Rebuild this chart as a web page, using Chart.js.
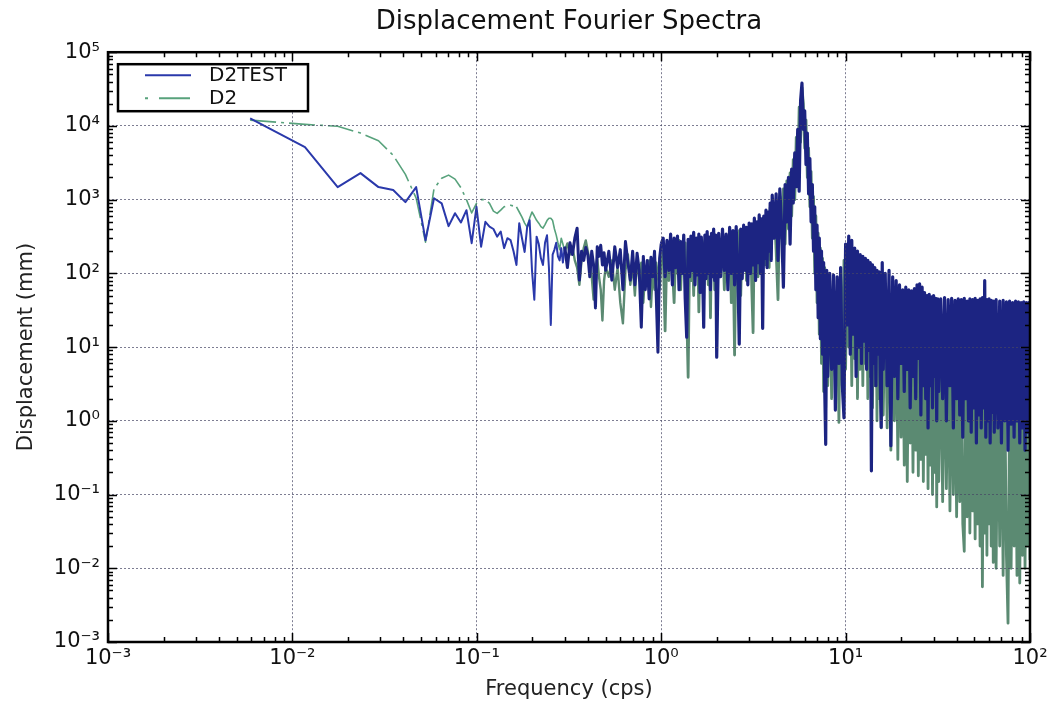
<!DOCTYPE html>
<html>
<head>
<meta charset="utf-8">
<title>Displacement Fourier Spectra</title>
<script src="https://cdn.jsdelivr.net/npm/chart.js@4.4.1/dist/chart.umd.min.js"></script>
<style>
  body { margin: 0; background: #fff; overflow: hidden; }
  canvas { display: block; }
</style>
</head>
<body>
<canvas id="spectra" width="1054" height="710"></canvas>
<script>
// frequencies in cps, shared by both spectra
const freq = [
  // fft bins under 0.3 cps
  0.0059, 0.0117, 0.0176, 0.0234, 0.0293, 0.0352, 0.0410, 0.0469, 0.0527, 0.0586,
  0.0645, 0.0703, 0.0762, 0.0820, 0.0879, 0.0938, 0.0996, 0.1055, 0.1113, 0.1172,
  0.1231, 0.1289, 0.1348, 0.1406, 0.1465, 0.1524, 0.1582, 0.1641, 0.1699, 0.1758,
  0.1817, 0.1875, 0.1934, 0.1992, 0.2051, 0.2110, 0.2168, 0.2227, 0.2285, 0.2344,
  0.2403, 0.2461, 0.2520, 0.2578, 0.2637, 0.2696, 0.2754, 0.2813, 0.2871, 0.2930,
  // 0.3 - 0.5
  0.30, 0.31, 0.32, 0.33, 0.34, 0.35, 0.36, 0.37, 0.38, 0.39, 0.40,
  0.41, 0.42, 0.43, 0.44, 0.45, 0.46, 0.47, 0.48, 0.49, 0.50,
  // 0.5 - 1
  0.52, 0.54, 0.56, 0.58, 0.60, 0.62, 0.64, 0.66, 0.68, 0.70, 0.72, 0.74, 0.76,
  0.78, 0.80, 0.82, 0.84, 0.86, 0.88, 0.90, 0.92, 0.94, 0.96, 0.98, 1.00,
  // 1 - 2
  1.025, 1.05, 1.075, 1.1, 1.125, 1.15, 1.175, 1.2, 1.225, 1.25,
  1.275, 1.3, 1.325, 1.35, 1.375, 1.4, 1.425, 1.45, 1.475, 1.5,
  1.525, 1.55, 1.575, 1.6, 1.625, 1.65, 1.675, 1.7, 1.725, 1.75,
  1.775, 1.8, 1.825, 1.85, 1.875, 1.9, 1.925, 1.95, 1.975, 2.0,
  // 2 - 4
  2.05, 2.1, 2.15, 2.2, 2.25, 2.3, 2.35, 2.4, 2.45, 2.5,
  2.55, 2.6, 2.65, 2.7, 2.75, 2.8, 2.85, 2.9, 2.95, 3.0,
  3.05, 3.1, 3.15, 3.2, 3.25, 3.3, 3.35, 3.4, 3.45, 3.5,
  3.55, 3.6, 3.65, 3.7, 3.75, 3.8, 3.85, 3.9, 3.95, 4.0,
  // 4 - 8
  4.1, 4.2, 4.3, 4.4, 4.5, 4.6, 4.7, 4.8, 4.9, 5.0,
  5.1, 5.2, 5.3, 5.4, 5.5, 5.6, 5.7, 5.8, 5.9, 6.0,
  6.1, 6.2, 6.3, 6.4, 6.5, 6.6, 6.7, 6.8, 6.9, 7.0,
  7.1, 7.2, 7.3, 7.4, 7.5, 7.6, 7.7, 7.8, 7.9, 8.0,
  // 8 - 16
  8.2, 8.4, 8.6, 8.8, 9.0, 9.2, 9.4, 9.6, 9.8, 10.0,
  10.2, 10.4, 10.6, 10.8, 11.0, 11.2, 11.4, 11.6, 11.8, 12.0,
  12.2, 12.4, 12.6, 12.8, 13.0, 13.2, 13.4, 13.6, 13.8, 14.0,
  14.2, 14.4, 14.6, 14.8, 15.0, 15.2, 15.4, 15.6, 15.8, 16.0,
  // 16 - 32
  16.4, 16.8, 17.2, 17.6, 18.0, 18.4, 18.8, 19.2, 19.6, 20.0,
  20.4, 20.8, 21.2, 21.6, 22.0, 22.4, 22.8, 23.2, 23.6, 24.0,
  24.4, 24.8, 25.2, 25.6, 26.0, 26.4, 26.8, 27.2, 27.6, 28.0,
  28.4, 28.8, 29.2, 29.6, 30.0, 30.4, 30.8, 31.2, 31.6, 32.0,
  // 32 - 64
  32.8, 33.6, 34.4, 35.2, 36.0, 36.8, 37.6, 38.4, 39.2, 40.0,
  40.8, 41.6, 42.4, 43.2, 44.0, 44.8, 45.6, 46.4, 47.2, 48.0,
  48.8, 49.6, 50.4, 51.2, 52.0, 52.8, 53.6, 54.4, 55.2, 56.0,
  56.8, 57.6, 58.4, 59.2, 60.0, 60.8, 61.6, 62.4, 63.2, 64.0,
  // 64 - 100
  65.5, 67, 68.5, 70, 71.5, 73, 74.5, 76, 77.5, 79,
  80.5, 82, 83.5, 85, 86.5, 88, 89.5, 91, 92.5, 94,
  95.5, 97, 98.5, 100
];

// D2TEST displacement (mm)
const d2test = [
  12700, 5150, 1480, 2290, 1480, 1350, 925, 1480, 282, 1045,
  890, 437, 655, 490, 720, 257, 800, 230, 500, 430,
  400, 315, 370, 220, 300, 283, 200, 130, 480, 300,
  195, 420, 525, 110, 44, 315, 250, 160, 130, 260,
  330, 120, 20, 180, 210, 260, 170, 150, 220, 140,
  230, 120, 260, 180, 300, 410, 81, 200, 150, 225, 180,
  90, 200, 130, 34, 230, 170, 240, 130, 190, 110,
  200, 81, 230, 120, 210, 60, 270, 140, 81, 200, 70, 188, 110,
  18.6, 170, 60, 150, 45, 165, 90, 200, 50, 8.5, 160, 250,
  300, 90, 280, 110, 340, 70, 300, 120, 320, 60,
  270, 100, 330, 45, 13.6, 290, 90, 320, 110, 360,
  70, 300, 95, 340, 55, 310, 120, 18.6, 330, 85,
  370, 100, 310, 60, 350, 90, 400, 80, 330, 7.3,
  350, 90, 400, 110, 340, 60, 420, 100, 380, 70,
  430, 120, 11, 400, 85, 450, 110, 420, 70, 480,
  100, 470, 130, 560, 80, 500, 140, 620, 100, 550,
  18, 600, 160, 720, 120, 680, 200, 900, 150, 1150,
  300, 1200, 150, 1400, 400, 65, 1600, 500, 2000, 250,
  2600, 900, 4300, 1500, 9000, 1300, 22000, 38000, 9000, 16000,
  3000, 8000, 1200, 3600, 500, 1600, 200, 800, 60, 450,
  25, 300, 13, 200, 8, 140, 3, 0.48, 110, 4,
  100, 5, 95, 1.4, 90, 6, 120, 3, 1.1, 250,
  20, 320, 8, 280, 15, 220, 4, 200, 10, 180,
  6, 170, 12, 160, 5, 150, 9, 140, 0.21, 130,
  6, 120, 3, 110, 8, 105, 4, 0.82, 140, 5,
  100, 3, 110, 0.46, 90, 4, 80, 2, 70, 6,
  60, 2.5, 65, 5, 60, 1.5, 58, 4, 62, 2,
  70, 7, 72, 1.2, 65, 3, 55, 2, 50, 0.8,
  52, 3, 48, 1.5, 50, 4, 46, 1, 45, 2.5,
  45, 2, 47, 1, 44, 3, 46, 0.8, 43, 2,
  45, 1.2, 44, 0.6, 46, 2, 42, 1, 45, 0.7,
  44, 1.5, 46, 0.5, 43, 1.2, 45, 0.8, 47, 1.5,
  80, 0.6, 44, 1, 45, 0.5, 43, 1.3, 42, 0.7,
  44, 0.8, 42, 0.5, 43, 1, 41, 0.4, 42, 0.9,
  40, 0.6, 42, 1, 41, 0.5, 40, 0.8, 41, 0.4,
  40, 0.7, 40, 0.6
];

// D2 displacement (mm)
const d2 = [
  12000, 10500, 9900, 8000, 6300, 4000, 2200, 1050, 265, 1400,
  1950, 2150, 1900, 1450, 1000, 660, 890, 1000, 1000, 890,
  700, 650, 720, 800, 830, 840, 820, 800, 680, 580,
  480, 425, 560, 680, 600, 525, 480, 430, 410, 460,
  520, 560, 560, 520, 400, 330, 260, 210, 300, 250,
  200, 255, 180, 230, 150, 120, 70, 150, 220, 280, 200,
  140, 90, 44, 120, 160, 90, 60, 23, 80, 120,
  90, 150, 60, 120, 40, 21, 110, 180, 70, 130, 50, 165, 80,
  140, 40, 120, 70, 150, 35, 110, 60, 140, 90, 60, 130,
  200, 16.6, 250, 80, 260, 120, 40, 240, 100, 280,
  60, 220, 140, 260, 30, 3.9, 180, 80, 260, 50,
  240, 110, 300, 30, 200, 90, 260, 45, 280, 130,
  320, 70, 260, 25, 300, 140, 340, 60, 300, 120,
  250, 140, 320, 60, 300, 120, 360, 40, 280, 7.8,
  330, 100, 380, 50, 330, 130, 420, 80, 380, 150,
  450, 60, 15.7, 400, 180, 480, 90, 450, 200, 540,
  100, 480, 130, 600, 200, 650, 120, 780, 250, 900,
  800, 200, 44, 1100, 300, 1400, 250, 1800, 400, 2300,
  600, 3500, 1000, 7000, 2000, 18000, 6000, 33000, 20000, 5000,
  12000, 2000, 5000, 800, 2400, 300, 1100, 100, 600, 40,
  350, 15, 220, 6, 160, 2.5, 120, 1.5, 90, 3,
  80, 2, 70, 4, 60, 0.95, 90, 3, 150, 5,
  200, 10, 250, 3, 180, 7, 160, 2, 150, 5,
  140, 3, 120, 6, 110, 2, 100, 4, 90, 1.5,
  85, 3, 80, 1, 75, 2, 70, 0.8, 65, 1.2,
  60, 0.8, 50, 0.4, 45, 1, 40, 0.3, 38, 0.6,
  35, 0.25, 32, 0.15, 30, 0.5, 28, 0.2, 26, 0.4,
  25, 0.18, 24, 0.3, 22, 0.15, 20, 0.35, 18, 0.12,
  17, 0.25, 16, 0.1, 15, 0.2, 14, 0.068, 13, 0.15,
  12, 0.08, 11, 0.12, 10, 0.06, 9, 0.1, 8, 0.05,
  8, 0.08, 7, 0.04, 0.017, 6, 0.05, 6, 0.03, 5.5,
  0.06, 5, 0.025, 5, 0.04, 4.5, 0.02, 4.5, 0.0056, 4,
  0.03, 4, 0.015, 3.5, 0.04, 3.5, 0.02, 3, 0.012, 3,
  0.01, 3, 0.02, 2.5, 0.008, 2.5, 0.015, 0.0018, 2, 0.01,
  2, 0.02, 1.8, 0.008, 1.8, 0.0063, 1.5, 0.015, 1.5, 0.01,
  1.2, 0.02, 1.2, 0.013
];

const xTicks = [0.001, 0.01, 0.1, 1, 10, 100];
const yTicks = [0.001, 0.01, 0.1, 1, 10, 100, 1000, 10000, 100000];

const FONT = 'DejaVu Sans';
const blue = '#2a39ab';
const blueDense = '#1c2482';
const green = '#58a27c';
const greenDense = '#5b8a72';

const sup = {'-': '\u207B', '0': '\u2070', '1': '\u00B9', '2': '\u00B2', '3': '\u00B3',
             '4': '\u2074', '5': '\u2075', '6': '\u2076', '7': '\u2077', '8': '\u2078', '9': '\u2079'};

function decadeLabel(v) {
    const e = Math.round(Math.log10(v));
    return '10' + String(e).split('').map(c => sup[c]).join('');
}

// spectra thicken where the fft bins pile up, so the band reads as solid
function bandWidth(c, thin, mid, thick) {
    const f = c.p0.parsed.x;
    if (f < 0.3) return thin;
    if (f < 1) return mid;
    return thick;
}

// white page behind everything
const background = {
    id: 'background',
    beforeDraw(chart) {
        const ctx = chart.ctx;
        ctx.save();
        ctx.fillStyle = '#ffffff';
        ctx.fillRect(0, 0, chart.width, chart.height);
        ctx.restore();
    }
};

// black box round the plot with inward major/minor ticks on all four sides
const frame = {
    id: 'frame',
    afterDraw(chart) {
        const {ctx, chartArea: a, scales} = chart;
        ctx.save();
        ctx.strokeStyle = '#000';
        ctx.lineWidth = 1.5;

        const tickX = (v, len) => {
            const px = Math.round(scales.x.getPixelForValue(v)) + 0.5;
            ctx.beginPath();
            ctx.moveTo(px, a.bottom); ctx.lineTo(px, a.bottom - len);
            ctx.moveTo(px, a.top); ctx.lineTo(px, a.top + len);
            ctx.stroke();
        };
        const tickY = (v, len) => {
            const py = Math.round(scales.y.getPixelForValue(v)) + 0.5;
            ctx.beginPath();
            ctx.moveTo(a.left, py); ctx.lineTo(a.left + len, py);
            ctx.moveTo(a.right, py); ctx.lineTo(a.right - len, py);
            ctx.stroke();
        };

        xTicks.forEach((d, i) => {
            tickX(d, 9);
            if (i < xTicks.length - 1) for (let m = 2; m < 10; m++) tickX(d * m, 5);
        });
        yTicks.forEach((d, i) => {
            tickY(d, 9);
            if (i < yTicks.length - 1) for (let m = 2; m < 10; m++) tickY(d * m, 5);
        });

        ctx.lineWidth = 2.5;
        ctx.strokeRect(a.left, a.top, a.right - a.left, a.bottom - a.top);
        ctx.restore();
    }
};

// boxed legend in the upper left corner of the plot
const boxLegend = {
    id: 'boxLegend',
    afterDraw(chart) {
        const {ctx, chartArea: a} = chart;
        const left = a.left + 10, top = a.top + 12;
        ctx.save();
        ctx.fillStyle = '#fff';
        ctx.fillRect(left, top, 190, 47);
        ctx.strokeStyle = '#000';
        ctx.lineWidth = 2.5;
        ctx.strokeRect(left, top, 190, 47);

        chart.data.datasets.forEach((ds, i) => {
            const y = top + 11 + i * 23;
            ctx.strokeStyle = ds.borderColor;
            ctx.lineWidth = 2;
            ctx.setLineDash(i === 1 ? [3, 11, 31, 100] : []);
            ctx.beginPath();
            ctx.moveTo(left + 27, y);
            ctx.lineTo(left + 73, y);
            ctx.stroke();
            ctx.setLineDash([]);
            ctx.fillStyle = '#111';
            ctx.font = '20px "' + FONT + '"';
            ctx.textBaseline = 'middle';
            ctx.fillText(ds.label, left + 91, y + 1);
        });
        ctx.restore();
    }
};

Chart.defaults.font.family = FONT;

const ctx = document.getElementById('spectra').getContext('2d');

const spectraChart = new Chart(ctx, {
    type: 'line',
    data: {
        datasets: [
            {
                label: 'D2TEST',
                data: freq.map((f, i) => ({x: f, y: d2test[i]})),
                borderColor: blue,
                borderWidth: 2,
                borderJoinStyle: 'round',
                pointRadius: 0,
                tension: 0,
                fill: false,
                segment: {
                    borderWidth: c => bandWidth(c, 2, 3, 3.2),
                    borderColor: c => c.p0.parsed.x >= 0.3 ? blueDense : undefined
                }
            },
            {
                label: 'D2',
                data: freq.map((f, i) => ({x: f, y: d2[i]})),
                borderColor: green,
                borderWidth: 1.6,
                borderJoinStyle: 'round',
                pointRadius: 0,
                tension: 0,
                fill: false,
                // dash-dot only shows where the points are sparse
                segment: {
                    borderDash: c => c.p0.parsed.x < 0.16 ? [26, 5, 3, 5] : undefined,
                    borderWidth: c => bandWidth(c, 1.6, 2.4, 2.8),
                    borderColor: c => c.p0.parsed.x >= 0.3 ? greenDense : undefined
                }
            }
        ]
    },
    options: {
        responsive: false,
        devicePixelRatio: 1,
        animation: false,
        events: [],
        layout: { padding: { left: 0, right: 24, top: 0, bottom: 0 } },
        plugins: {
            legend: { display: false },
            tooltip: { enabled: false },
            title: {
                display: true,
                fullSize: false,
                text: 'Displacement Fourier Spectra',
                color: '#111',
                font: { family: FONT, size: 26, weight: 'normal' },
                padding: { top: 7, bottom: 14 }
            }
        },
        scales: {
            x: {
                type: 'logarithmic',
                position: 'bottom',
                min: 0.001,
                max: 100,
                afterBuildTicks: s => { s.ticks = xTicks.map(v => ({value: v})); },
                afterFit: s => { s.height = 68; },
                ticks: {
                    callback: v => decadeLabel(v),
                    color: '#111',
                    font: { family: FONT, size: 21 },
                    padding: 4,
                    maxRotation: 0,
                    autoSkip: false
                },
                grid: { color: 'rgba(70,70,100,0.7)', lineWidth: 1, drawTicks: false, z: 1 },
                border: { display: false, dash: [2, 2] },
                title: {
                    display: true,
                    text: 'Frequency (cps)',
                    color: '#222',
                    font: { family: FONT, size: 21 },
                    padding: { top: 0, bottom: 8 }
                }
            },
            y: {
                type: 'logarithmic',
                position: 'left',
                min: 0.001,
                max: 100000,
                afterBuildTicks: s => { s.ticks = yTicks.map(v => ({value: v})); },
                afterFit: s => { s.width = 108; },
                ticks: {
                    callback: v => decadeLabel(v),
                    color: '#111',
                    font: { family: FONT, size: 21 },
                    padding: 8,
                    autoSkip: false
                },
                grid: { color: 'rgba(70,70,100,0.7)', lineWidth: 1, drawTicks: false, z: 1 },
                border: { display: false, dash: [2, 2] },
                title: {
                    display: true,
                    text: 'Displacement (mm)',
                    color: '#222',
                    font: { family: FONT, size: 21 },
                    padding: { top: 14, bottom: 0 }
                }
            }
        }
    },
    plugins: [background, frame, boxLegend]
});
</script>
</body>
</html>
